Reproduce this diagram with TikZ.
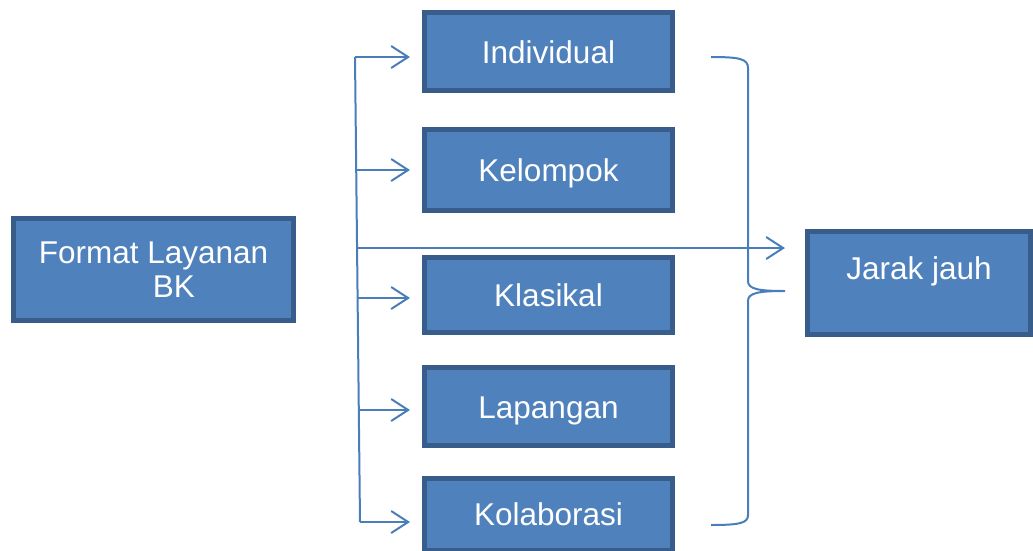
\documentclass[tikz,border=0pt]{standalone}
\usepackage{fontspec}
\setmainfont{Liberation Sans}
\usepackage{tikz}
\usetikzlibrary{arrows.meta, positioning}

\definecolor{boxfill}{HTML}{4F81BD}
\definecolor{boxline}{HTML}{385D8A}
\definecolor{connline}{HTML}{4A7EBB}

\begin{document}
\begin{tikzpicture}[
        x=1pt, y=-1pt,
        box/.style={rectangle, draw=boxline, line width=5pt, fill=boxfill, text=white, align=center, font=\fontsize{31.5}{36}\selectfont, inner sep=0pt},
        item/.style={box, minimum width=248pt, minimum height=78pt, text height=23pt, text depth=0pt},
        conn/.style={draw=connline, line width=2pt},
        arrow/.style={conn, -{Straight Barb[length=17pt, width=22pt]}, shorten >=12pt}
    ]
    \useasboundingbox (0,0) rectangle (1033,550);

    % Nodes
    \node[box, minimum width=280pt, minimum height=102pt, align=left] (format) at (153.5,269.5) {Format Layanan\\[-2pt]\hspace*{114pt}BK};
    \node[item] (indiv) at (548.5,51.5) {Individual};
    \node[item, minimum height=81pt] (kelompok) at (548.5,170) {Kelompok};
    \node[item, minimum height=75pt] (klasikal) at (548.5,295) {Klasikal};
    \node[item] (lapangan) at (548.5,406.5) {Lapangan};
    \node[item, minimum height=72pt] (kolab) at (548.5,514) {Kolaborasi};
    \node[box, minimum width=223pt, minimum height=103pt, text height=23pt, text depth=30pt] (jarak) at (919,283) {Jarak jauh};

    % Trunk
    \coordinate (t1) at (355,57);
    \coordinate (t2) at (356,170);
    \coordinate (tm) at (358,248);
    \coordinate (t3) at (358,298);
    \coordinate (t4) at (359,410);
    \coordinate (t5) at (360,522);
    \draw[conn] (t1) -- (t5);

    % Edges
    \draw[arrow] (t1) -- (t1 -| indiv.west);
    \draw[arrow] (t2) -- (t2 -| kelompok.west);
    \draw[arrow] (t3) -- (t3 -| klasikal.west);
    \draw[arrow] (t4) -- (t4 -| lapangan.west);
    \draw[arrow] (t5) -- (t5 -| kolab.west);
    \draw[arrow, shorten >=20pt] (tm) -- (tm -| jarak.west);

    % Brace
    \coordinate (btop) at (711,57);
    \coordinate (btip) at (785,291);
    \coordinate (bbot) at (711,525);
    \draw[conn] (btop) .. controls (740,57) and (748,59) .. (748,68) -- (748,281)
        .. controls (748,289) and (758,291) .. (btip)
        .. controls (758,291) and (748,293) .. (748,301) -- (748,515)
        .. controls (748,523) and (740,525) .. (bbot);

\end{tikzpicture}
\end{document}
